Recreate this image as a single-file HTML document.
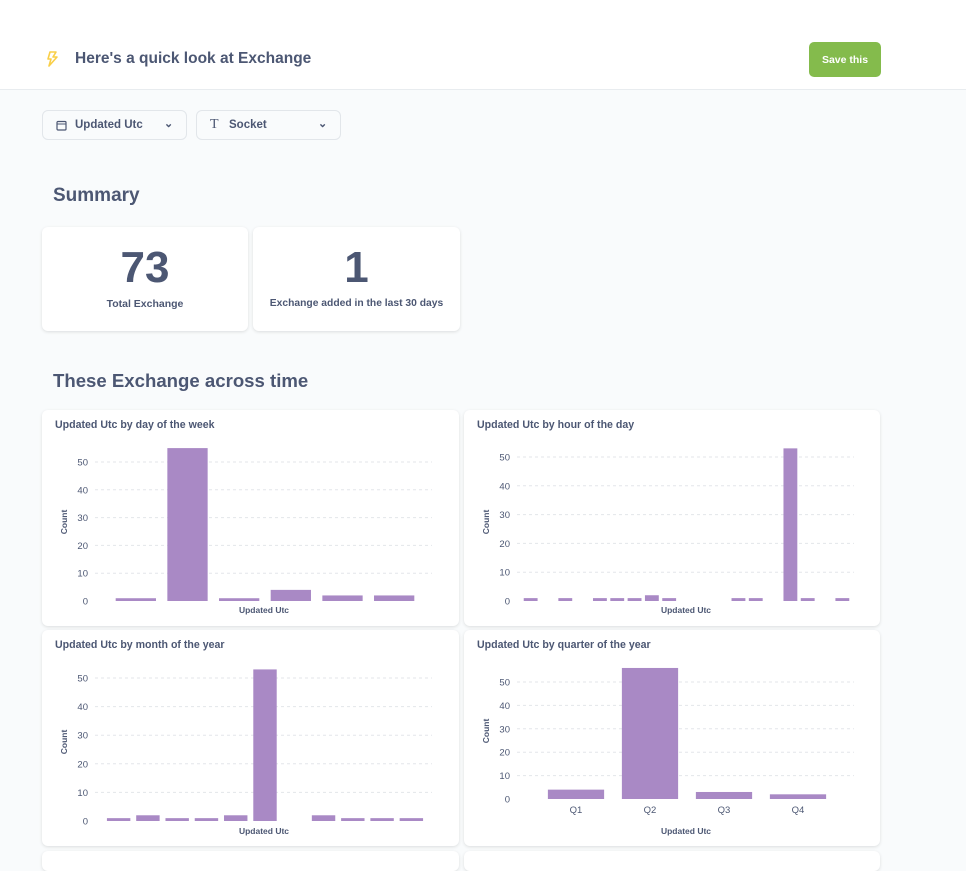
<!DOCTYPE html>
<html><head><meta charset="utf-8">
<style>
*{box-sizing:border-box}
body{margin:0;width:966px;height:856px;overflow:hidden;background:#f9fbfc;font-family:"Liberation Sans",sans-serif;color:#4c5773;position:relative}
.hdr{position:absolute;left:0;top:0;width:966px;height:90px;background:#fff;border-bottom:1px solid #e8ecef}
.abs{position:absolute}
.card{position:absolute;background:#fff;border-radius:6px;box-shadow:0 1px 3px rgba(0,0,0,0.12)}
.filter{position:absolute;height:30px;border:1px solid #e2e6ea;border-radius:6px;background:#f9fbfc;font-size:11.5px;font-weight:bold;line-height:28px}
</style></head><body>
<div class="hdr">
  <svg class="abs" style="left:44px;top:51px" width="16" height="16" viewBox="0 0 16 16"><path d="M6 1h6l-3 5h4l-8 9 2-7H4z" fill="none" stroke="#f9cf48" stroke-width="1.6" stroke-linejoin="round"/></svg>
  <div class="abs" style="left:75px;top:50px;font-size:15.5px;font-weight:bold">Here's a quick look at Exchange</div>
  <div class="abs" style="left:809px;top:42px;width:72px;height:35px;background:#84bb4c;border-radius:5px;color:#fff;font-size:10.5px;font-weight:bold;text-align:center;line-height:36px">Save this</div>
</div>
<div class="filter" style="left:42px;top:110px;width:145px">
  <svg class="abs" style="left:13px;top:9px" width="11" height="11" viewBox="0 0 11 11"><rect x="1" y="1.5" width="9" height="8.5" rx="1" fill="none" stroke="#4c5773" stroke-width="1.2"/><line x1="1" y1="4" x2="10" y2="4" stroke="#4c5773"/></svg>
  <span class="abs" style="left:32px">Updated Utc</span>
  <span class="abs" style="left:121px;top:-1px;font-size:11px">&#8964;</span>
</div>
<div class="filter" style="left:196px;top:110px;width:145px">
  <span class="abs" style="left:13px;font-family:'Liberation Serif',serif;font-size:14px;font-weight:normal">T</span>
  <span class="abs" style="left:32px">Socket</span>
  <span class="abs" style="left:121px;top:-1px;font-size:11px">&#8964;</span>
</div>
<div class="abs" style="left:53px;top:185px;font-size:19px;font-weight:bold">Summary</div>
<div class="card" style="left:42px;top:227px;width:206px;height:104px">
  <div class="abs" style="left:0;width:100%;top:16px;text-align:center;font-size:44px;font-weight:bold">73</div>
  <div class="abs" style="left:0;width:100%;top:71px;text-align:center;font-size:10.5px;font-weight:bold">Total Exchange</div>
</div>
<div class="card" style="left:253px;top:227px;width:207px;height:104px">
  <div class="abs" style="left:0;width:100%;top:16px;text-align:center;font-size:44px;font-weight:bold">1</div>
  <div class="abs" style="left:0;width:100%;top:71px;text-align:center;font-size:10.3px;font-weight:bold">Exchange added in the last 30 days</div>
</div>
<div class="abs" style="left:53px;top:370px;font-size:18.6px;font-weight:bold">These Exchange across time</div>

<div class="card" id="c1" style="left:42px;top:410px;width:417px;height:216px"></div>
<div class="card" id="c2" style="left:464px;top:410px;width:416px;height:216px"></div>
<div class="card" id="c3" style="left:42px;top:630px;width:417px;height:216px"></div>
<div class="card" id="c4" style="left:464px;top:630px;width:416px;height:216px"></div>
<div class="card" style="left:42px;top:851px;width:417px;height:20px"></div>
<div class="card" style="left:464px;top:851px;width:416px;height:20px"></div>

<script>
const dayCategories = ["1","2","3","4","5","6"];
const dayValues = [1, 55, 1, 4, 2, 2];
const hourCategories = ["0","1","2","3","4","5","6","7","8","9","10","11","12","13","14","15","16","17","18"];
const hourValues = [1,0,1,0,1,1,1,2,1,0,0,0,1,1,0,53,1,0,1];
const monthCategories = ["1","2","3","4","5","6","7","8","9","10","11"];
const monthValues = [1,2,1,1,2,53,0,2,1,1,1];
const quarterCategories = ["Q1","Q2","Q3","Q4"];
const quarterValues = [4, 56, 3, 2];
const yTicks = [0,10,20,30,40,50];

const NS = "http://www.w3.org/2000/svg";
function mk(tag, attrs, parent){const e=document.createElementNS(NS,tag);for(const k in attrs)e.setAttribute(k,attrs[k]);parent.appendChild(e);return e;}

function chart(id, title, cats, vals, o){
  const card=document.getElementById(id);
  const svg=mk("svg",{width:card.style.width.replace('px',''),height:216},card);
  
  
  const t=mk("text",{x:13,y:18,"font-size":10.6,"font-weight":"bold",fill:"#4c5773"},svg);t.textContent=title;
  
  
  const yS=v=>o.zero-v*(o.zero-o.y50)/50;
  const band=(o.x1-o.x0)/cats.length;
  const xC=i=>o.x0+band*(i+0.5);
  yTicks.forEach(v=>{
    if(v>0){const g=mk("line",{x1:53,x2:390,y1:yS(v),y2:yS(v),stroke:"#e3e6ea","stroke-dasharray":"3,3"},svg);
      
      }
    const l=mk("text",{x:46,y:yS(v)+3.5,"text-anchor":"end","font-size":9.5,fill:"#4c5773"},svg);l.textContent=v;
    
    
  });
  const yt=mk("text",{x:0,y:0,"font-size":8.5,"font-weight":"bold",fill:"#4c5773","text-anchor":"middle",transform:`translate(25,${o.yTitle}) rotate(-90)`},svg);yt.textContent="Count";
  
  
  vals.forEach((v,i)=>{
    if(v<=0)return;
    const bw=band*o.bw;
    const r=mk("rect",{x:xC(i)-bw/2,y:yS(v),width:bw,height:o.zero-yS(v),fill:"#a989c5"},svg);
    
    
  });
  if(o.labels){cats.forEach((c,i)=>{const l=mk("text",{x:xC(i),y:o.zero+14,"text-anchor":"middle","font-size":9.5,fill:"#4c5773"},svg);l.textContent=c;
    
    });}
  const xt=mk("text",{x:222,y:o.xTitle,"text-anchor":"middle","font-size":8.5,"font-weight":"bold",fill:"#4c5773"},svg);xt.textContent="Updated Utc";
  
  
}
chart("c1","Updated Utc by day of the week",dayCategories,dayValues,{zero:191,y50:52,x0:68,x1:378,bw:0.78,yTitle:112,xTitle:203});
chart("c2","Updated Utc by hour of the day",hourCategories,hourValues,{zero:191,y50:47,x0:58,x1:387,bw:0.8,yTitle:112,xTitle:203});
chart("c3","Updated Utc by month of the year",monthCategories,monthValues,{zero:191,y50:48,x0:62,x1:384,bw:0.8,yTitle:112,xTitle:204});
chart("c4","Updated Utc by quarter of the year",quarterCategories,quarterValues,{zero:169,y50:52,x0:75,x1:371,bw:0.76,yTitle:101,xTitle:204,labels:true});
</script>
</body></html>
